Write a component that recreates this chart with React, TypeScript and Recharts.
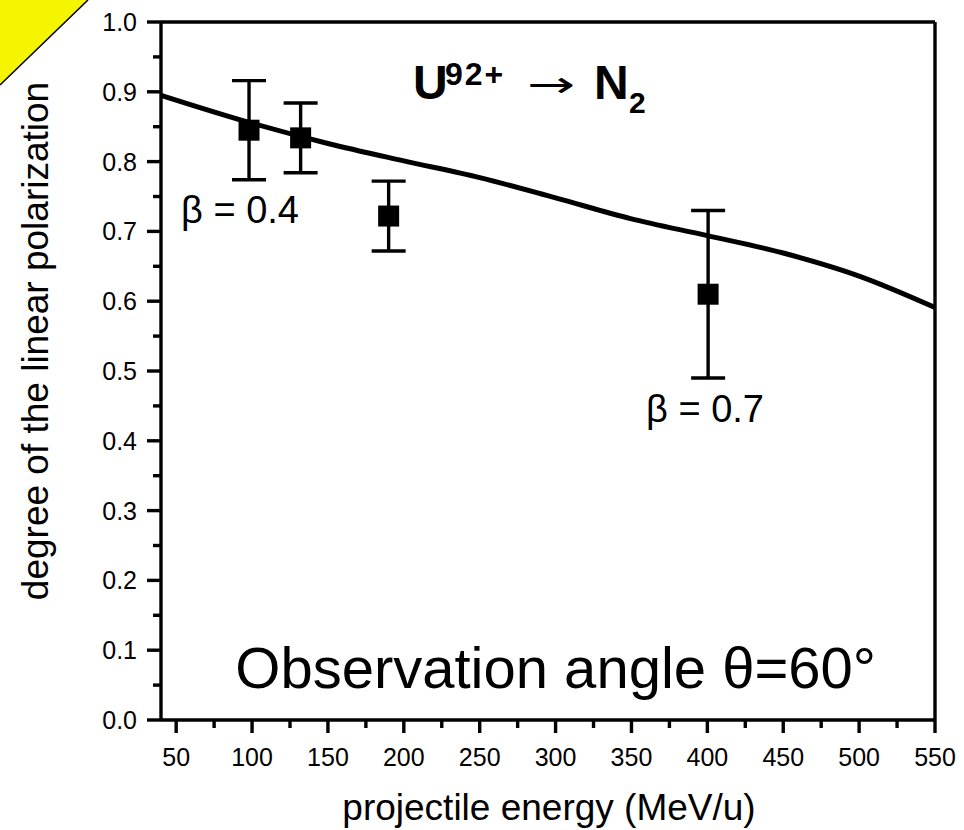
import React from 'react';
import { ComposedChart, Line, Scatter, XAxis, YAxis, ErrorBar, ReferenceLine } from 'recharts';

// theory curve
const curveEnergy = [40, 100, 150, 200, 250, 300, 350, 400, 450, 500, 550];
const curvePol = [0.895, 0.855, 0.826, 0.801, 0.777, 0.748, 0.718, 0.694, 0.669, 0.636, 0.591];
// measured points
const pointEnergy = [98, 132, 190, 400.5];
const pointPol = [0.845, 0.834, 0.722, 0.61];
const pointErr = [0.071, 0.05, 0.05, 0.12];
// ticks
const xTicks = [50, 75, 100, 125, 150, 175, 200, 225, 250, 275, 300, 325, 350, 375, 400, 425, 450, 475, 500, 525, 550];
const yTicks = [0, 0.05, 0.1, 0.15, 0.2, 0.25, 0.3, 0.35, 0.4, 0.45, 0.5, 0.55, 0.6, 0.65, 0.7, 0.75, 0.8, 0.85, 0.9, 0.95, 1.0];

const curveData = curveEnergy.map((x, i) => ({ x, y: curvePol[i] }));
const pointData = pointEnergy.map((x, i) => ({ x, y: pointPol[i], err: pointErr[i] }));

const FONT = '"Liberation Sans", Arial, Helvetica, sans-serif';
const AXW = 3.4;

const XTick = (props: any) => {
  const { x, y, payload } = props;
  const v = payload.value;
  const major = Math.round(v) % 50 === 0;
  return (
    <g>
      <line x1={x} x2={x} y1={y} y2={y + (major ? 13 : 8)} stroke="#000" strokeWidth={AXW} />
      {major && (
        <text x={x} y={y + 46} textAnchor="middle" fontSize={25} fontFamily={FONT} fill="#000">
          {v}
        </text>
      )}
    </g>
  );
};

const YTick = (props: any) => {
  const { x, y, payload } = props;
  const v = payload.value;
  const major = Math.round(v * 100) % 10 === 0;
  return (
    <g>
      <line x1={x} x2={x - (major ? 14 : 8)} y1={y} y2={y} stroke="#000" strokeWidth={AXW} />
      {major && (
        <text x={x - 24} y={y + 9} textAnchor="end" fontSize={25} fontFamily={FONT} fill="#000">
          {v.toFixed(1)}
        </text>
      )}
    </g>
  );
};

const Square = (props: any) => {
  const { cx, cy } = props;
  return <rect x={cx - 10.5} y={cy - 10.5} width={21} height={21} fill="#000" />;
};

export default function App() {
  return (
    <div style={{ position: 'absolute', left: 0, top: 0, width: 964, height: 830, background: '#fff' }}>
      <ComposedChart width={964} height={830} margin={{ top: 22, right: 29, bottom: 0, left: 0 }}>
        <XAxis
          type="number"
          dataKey="x"
          domain={[40, 550]}
          ticks={xTicks}
          interval={0}
          allowDataOverflow
          tick={<XTick />}
          tickLine={false}
          tickSize={0}
          tickMargin={0}
          height={110}
          axisLine={{ stroke: '#000', strokeWidth: AXW }}
        />
        <YAxis
          type="number"
          dataKey="y"
          domain={[0, 1]}
          ticks={yTicks}
          interval={0}
          allowDataOverflow
          tick={<YTick />}
          tickLine={false}
          tickSize={0}
          tickMargin={0}
          width={161}
          axisLine={{ stroke: '#000', strokeWidth: AXW }}
        />
        <ReferenceLine y={1} stroke="#000" strokeWidth={AXW} />
        <ReferenceLine x={550} stroke="#000" strokeWidth={AXW} />
        <Line
          data={curveData}
          dataKey="y"
          type="monotone"
          stroke="#000"
          strokeWidth={5}
          dot={false}
          isAnimationActive={false}
        />
        <Scatter data={pointData} dataKey="y" fill="#000" shape={<Square />} isAnimationActive={false}>
          <ErrorBar dataKey="err" direction="y" width={17} strokeWidth={3.4} stroke="#000" />
        </Scatter>
      </ComposedChart>
      <svg
        width={964}
        height={830}
        style={{ position: 'absolute', left: 0, top: 0, pointerEvents: 'none' }}
      >
        <polygon points="0,0 88,0 0,85" fill="#f5f500" />
        <line x1={88} y1={0} x2={0} y2={85} stroke="#000" strokeWidth={1.5} />
        <text
          x={48}
          y={341}
          transform="rotate(-90 48 341)"
          textAnchor="middle"
          fontSize={37}
          fontFamily={FONT}
          fill="#000"
        >
          degree of the linear polarization
        </text>
        <text x={549} y={820} textAnchor="middle" fontSize={37} fontFamily={FONT} fill="#000">
          projectile energy (MeV/u)
        </text>
        <text x={876} y={688} textAnchor="end" fontSize={58} fontFamily={FONT} fill="#000">
          Observation angle θ=60°
        </text>
        <text fontFamily={FONT} fill="#000">
          <tspan x={413} y={99} fontSize={48} fontWeight="bold">U</tspan>
          <tspan x={445} y={85} fontSize={32} fontWeight="bold" letterSpacing={2}>92+</tspan>
          <tspan x={594} y={99} fontSize={48} fontWeight="bold">N</tspan>
          <tspan x={629} y={113} fontSize={30} fontWeight="bold">2</tspan>
        </text>
        <text
          x={0}
          y={0}
          transform="translate(527 97) scale(1.6 1)"
          fontSize={36}
          fontFamily='"DejaVu Sans", sans-serif'
          fill="#000"
        >
          →
        </text>
        <text x={181} y={223} fontSize={38} fontFamily={FONT} fill="#000">
          β = 0.4
        </text>
        <text x={646} y={422} fontSize={38} fontFamily={FONT} fill="#000">
          β = 0.7
        </text>
      </svg>
    </div>
  );
}
